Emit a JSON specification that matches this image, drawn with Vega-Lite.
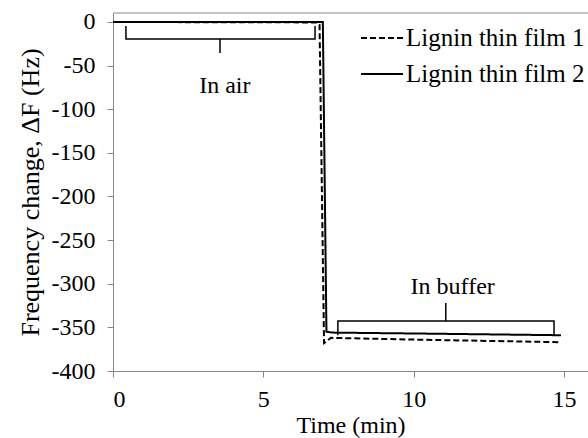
{
  "$schema": "https://vega.github.io/schema/vega-lite/v6.json",
  "width": 475,
  "height": 358,
  "autosize": "none",
  "padding": {"left": 113, "top": 13, "right": 0, "bottom": 67},
  "background": "white",
  "config": {
    "view": {"stroke": null},
    "font": "Liberation Serif",
    "axis": {
      "domainColor": "#868686",
      "tickColor": "#868686",
      "tickSize": 6,
      "grid": false,
      "labelFont": "Liberation Serif",
      "labelFontSize": 24,
      "labelColor": "black",
      "titleFont": "Liberation Serif",
      "titleFontSize": 24,
      "titleFontWeight": "normal",
      "titleColor": "black"
    },
    "legend": {
      "labelFont": "Liberation Serif",
      "labelFontSize": 25,
      "labelColor": "black",
      "labelLimit": 0
    }
  },
  "datasets": {
    "lines": [
      {"series": "Lignin thin film 1", "t": 0, "f": 0},
      {"series": "Lignin thin film 1", "t": 6.8, "f": -0.5},
      {"series": "Lignin thin film 1", "t": 6.87, "f": -3},
      {"series": "Lignin thin film 1", "t": 7.02, "f": -368},
      {"series": "Lignin thin film 1", "t": 7.25, "f": -362},
      {"series": "Lignin thin film 1", "t": 10, "f": -364},
      {"series": "Lignin thin film 1", "t": 14.9, "f": -367},
      {"series": "Lignin thin film 2", "t": 0, "f": 0},
      {"series": "Lignin thin film 2", "t": 6.98, "f": 0},
      {"series": "Lignin thin film 2", "t": 7.1, "f": -355},
      {"series": "Lignin thin film 2", "t": 7.3, "f": -356},
      {"series": "Lignin thin film 2", "t": 10, "f": -357},
      {"series": "Lignin thin film 2", "t": 14.9, "f": -359}
    ],
    "braces": [
      {"brace": "air", "k": 1, "t": 0.43, "f": -4.6},
      {"brace": "air", "k": 2, "t": 0.43, "f": -19.5},
      {"brace": "air", "k": 3, "t": 3.56, "f": -19.5},
      {"brace": "air", "k": 4, "t": 3.56, "f": -35.5},
      {"brace": "air", "k": 5, "t": 3.56, "f": -19.5},
      {"brace": "air", "k": 6, "t": 6.72, "f": -19.5},
      {"brace": "air", "k": 7, "t": 6.72, "f": -4.6},
      {"brace": "buffer", "k": 1, "t": 7.48, "f": -359},
      {"brace": "buffer", "k": 2, "t": 7.48, "f": -342.7},
      {"brace": "buffer", "k": 3, "t": 11.07, "f": -342.7},
      {"brace": "buffer", "k": 4, "t": 11.07, "f": -322},
      {"brace": "buffer", "k": 5, "t": 11.07, "f": -342.7},
      {"brace": "buffer", "k": 6, "t": 14.67, "f": -342.7},
      {"brace": "buffer", "k": 7, "t": 14.67, "f": -359}
    ],
    "labels": [
      {"label": "In air", "t": 3.72, "f": -73},
      {"label": "In buffer", "t": 11.3, "f": -304}
    ]
  },
  "layer": [
    {
      "data": {"name": "lines"},
      "mark": {"type": "line", "color": "black", "strokeWidth": 2},
      "encoding": {
        "x": {
          "field": "t", "type": "quantitative",
          "scale": {"domain": [0, 15.8], "nice": false, "zero": false},
          "axis": {"values": [0, 5, 10, 15], "title": "Time (min)", "labelPadding": 10, "titleBaseline": "alphabetic", "titleY": 61}
        },
        "y": {
          "field": "f", "type": "quantitative",
          "scale": {"domain": [-400, 10.3], "nice": false, "zero": false},
          "axis": {"values": [-400, -350, -300, -250, -200, -150, -100, -50, 0], "labelExpr": "replace(datum.label, '−', '-')", "title": "Frequency change, ΔF (Hz)", "titleFontSize": 26, "labelPadding": 12, "titlePadding": 8}
        },
        "strokeDash": {
          "field": "series", "type": "nominal",
          "scale": {"domain": ["Lignin thin film 1", "Lignin thin film 2"], "range": [[6, 3], [1, 0]]},
          "legend": {
            "title": null,
            "orient": "none",
            "legendX": 247,
            "legendY": 3,
            "symbolType": "stroke",
            "symbolSize": 1764,
            "symbolStrokeColor": "black",
            "symbolStrokeWidth": 2,
            "labelOffset": 2,
            "rowPadding": 1,
            "padding": 0
          }
        },
        "order": {"field": "t", "type": "quantitative"}
      }
    },
    {
      "data": {"name": "braces"},
      "mark": {"type": "line", "color": "black", "strokeWidth": 1.5},
      "encoding": {
        "x": {"field": "t", "type": "quantitative"},
        "y": {"field": "f", "type": "quantitative"},
        "detail": {"field": "brace", "type": "nominal"},
        "order": {"field": "k", "type": "quantitative"}
      }
    },
    {
      "data": {"name": "labels"},
      "mark": {"type": "text", "font": "Liberation Serif", "fontSize": 24, "color": "black", "align": "center", "baseline": "middle"},
      "encoding": {
        "x": {"field": "t", "type": "quantitative"},
        "y": {"field": "f", "type": "quantitative"},
        "text": {"field": "label", "type": "nominal"}
      }
    },
    {
      "data": {"values": [{}]},
      "mark": {"type": "rule", "color": "#868686", "strokeWidth": 1},
      "encoding": {"y": {"datum": 10.3}}
    }
  ]
}
